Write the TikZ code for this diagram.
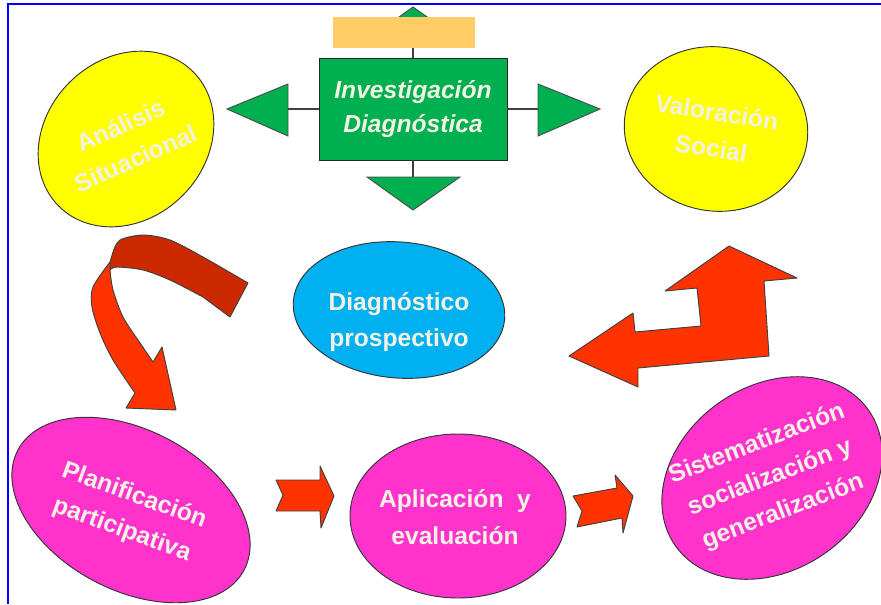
\documentclass[tikz,border=0pt]{standalone}
\usepackage{fontspec}
\setmainfont{Liberation Sans}
\usetikzlibrary{shapes.geometric,calc}

\definecolor{boxgreen}{HTML}{00B050}
\definecolor{sunyellow}{HTML}{FFFF00}
\definecolor{skyblue}{HTML}{00B0F0}
\definecolor{pinkfill}{HTML}{FF33CC}
\definecolor{arrowred}{HTML}{FF3300}
\definecolor{darkred}{HTML}{CC2900}
\definecolor{tagorange}{HTML}{FFCC66}
\definecolor{cream}{HTML}{F2F2E4}

\begin{document}
\begin{tikzpicture}[x=0.03cm, y=-0.03cm,
	main/.style = {draw=black!80, line width=0.8pt, ellipse, inner sep=0pt},
	txt/.style = {text=cream, font=\bfseries\fontsize{21}{31}\selectfont, align=center},
	tri/.style = {fill=boxgreen, draw=black!70, line width=0.8pt},
	conn/.style = {draw=black!75, line width=1.6pt},
	blk/.style = {fill=arrowred, draw=black!75, line width=0.8pt, line join=round}]
	\useasboundingbox (0,0) rectangle (881,604);
	\draw[blue, line width=1.7pt] (881,4) -- (8,4) -- (8,604);

	% investigacion and its four arrows
	\coordinate (upb) at (413,40);
	\coordinate (dnb) at (413,177);
	\coordinate (ltb) at (288,109);
	\coordinate (rtb) at (538,109);
	\draw[tri] ($(upb)+(-46,0)$) -- (413,7) -- ($(upb)+(47,0)$) -- cycle;
	\node[fill=tagorange, minimum width=4.26cm, minimum height=0.93cm, inner sep=0pt] (tag) at (404,32.5) {};
	\node[draw=black!85, fill=boxgreen, minimum width=5.64cm, minimum height=3.06cm, txt, font=\bfseries\itshape\fontsize{21}{29}\selectfont] (inv) at (413,109) {Investigación\\Diagnóstica};
	\draw[conn] (inv.north) -- (tag.south -| inv.north);
	\draw[conn] (inv.south) -- (dnb);
	\draw[conn] (inv.west) -- (ltb);
	\draw[conn] (inv.east) -- (rtb);
	\draw[tri] ($(dnb)+(-46,0)$) -- (413,210) -- ($(dnb)+(47,0)$) -- cycle;
	\draw[tri] ($(ltb)+(0,-25)$) -- (227,109) -- ($(ltb)+(0,27)$) -- cycle;
	\draw[tri] ($(rtb)+(0,-25)$) -- (600,109) -- ($(rtb)+(0,27)$) -- cycle;

	% ellipses
	\node[main, fill=sunyellow, minimum width=5.7cm, minimum height=4.8cm, rotate=45] (ana) at (126,139) {};
	\node[txt, rotate=24] (anatxt) at (128,142) {Análisis\\Situacional};
	\node[main, fill=sunyellow, minimum width=5.52cm, minimum height=4.92cm, rotate=-10] (val) at (716,129) {};
	\node[txt, rotate=-9] (valtxt) at (714,130) {Valoración\\Social};
	\node[main, fill=skyblue, minimum width=6.36cm, minimum height=4.08cm, rotate=-5] (diag) at (399,310) {};
	\node[txt] (diagtxt) at (399,322) {Diagnóstico\\prospectivo};
	\node[main, fill=pinkfill, minimum width=7.68cm, minimum height=4.8cm, rotate=-28] (plan) at (131,510) {};
	\node[txt, rotate=-20] (plantxt) at (128,513) {Planificación\\participativa};
	\node[main, fill=pinkfill, minimum width=6.48cm, minimum height=4.92cm] (apl) at (458,516) {};
	\node[txt] (apltxt) at (455,517) {Aplicación\ \ y\\evaluación};
	\node[main, fill=pinkfill, minimum width=7.08cm, minimum height=5.52cm, rotate=35] (sis) at (772,478) {};
	\node[txt, rotate=21] (sistxt) at (770,478) {Sistematización\\socialización y\\generalización};

	% block arrows
	\draw[blk, fill=darkred] (110,262) -- plot[smooth] coordinates {(113,252) (120,240) (143,235) (170,240) (203,257) (248,283)}
		-- (230,317) -- plot[smooth] coordinates {(203,297) (170,280) (143,270) (117,267) (110,270)} -- cycle;
	\draw[blk] plot[smooth] coordinates {(110,262) (93,287) (92,307) (100,333) (113,360) (135,393)}
		-- (126,408) -- (176,410) -- (162,347) -- (153,362)
		-- plot[smooth] coordinates {(138,340) (123,317) (113,290) (110,270)} -- cycle;
	\draw[blk] (729,246) -- (797,278) -- (764,281) -- (769,356) -- (638,368) -- (638,387) -- (569,356)
		-- (633,313) -- (635,332) -- (701,326) -- (697,288) -- (665,291) -- cycle;
	\draw[blk] (276,480) -- (320,480) -- (320,466) -- (334,496) -- (321,528) -- (320,511) -- (276,511) -- (283,495) -- cycle;
	\draw[blk] (573,496) -- (617,488) -- (615,475) -- (633,496) -- (623,533) -- (622,518) -- (577,527) -- (582,511) -- cycle;
\end{tikzpicture}
\end{document}
